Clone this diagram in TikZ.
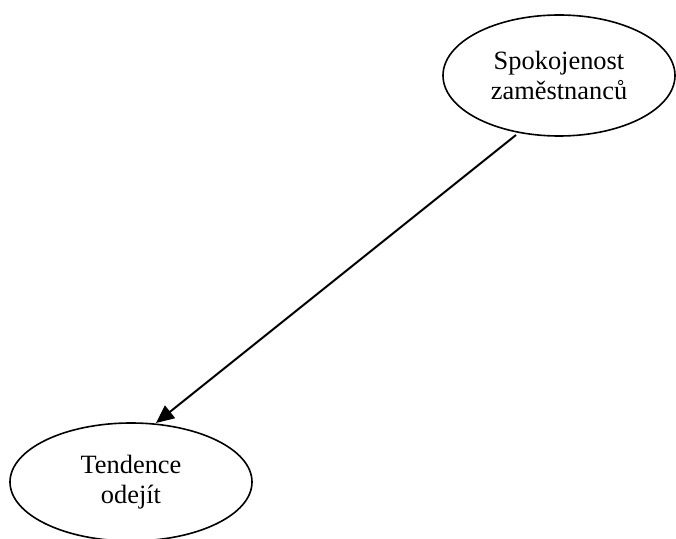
\documentclass[tikz,border=0pt]{standalone}
\usepackage{fontspec}
\setmainfont{Liberation Serif}
\usetikzlibrary{shapes.geometric,arrows.meta}
\begin{document}
\begin{tikzpicture}[x=1bp,y=-1bp,
  ell/.style={draw,line width=1.6bp,ellipse,inner sep=0pt,align=center,font=\fontsize{26.5}{30.5}\selectfont},
  conn/.style={line width=2bp,-{Triangle[length=18bp,width=16bp]}}]
\useasboundingbox (0,0) rectangle (676,539);
\node[ell,minimum width=232bp,minimum height=121bp] (a) at (559,75.5) {Spokojenost\\zaměstnanců};
\node[ell,minimum width=242bp,minimum height=118bp] (b) at (131,482) {Tendence\\odejít};
\coordinate (s) at (516,135);
\coordinate (t) at (156,423);
\draw[conn] (s) -- (t);
\end{tikzpicture}
\end{document}
